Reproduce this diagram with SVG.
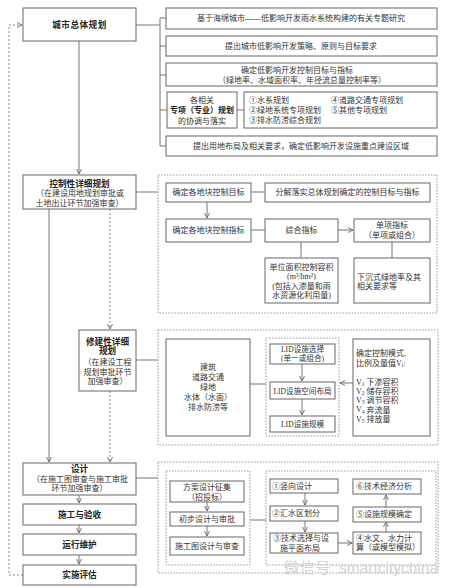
<svg xmlns="http://www.w3.org/2000/svg" width="456" height="588" viewBox="0 0 456 588">
<style>
.b{fill:#fff;stroke:#666;stroke-width:1}
.d{fill:none;stroke:#8c8c8c;stroke-width:0.9;stroke-dasharray:1.5 1.5}
.l{fill:none;stroke:#666;stroke-width:0.9}
.ld{fill:none;stroke:#777;stroke-width:0.9;stroke-dasharray:2 2}
.t{font-family:"Liberation Serif","Noto Sans CJK SC",serif;font-size:8px;fill:#333;text-anchor:middle;dominant-baseline:central}
.tl{text-anchor:start}
.s{font-size:7.6px}
.h{font-weight:bold;font-size:8.6px;fill:#222}
.w{font-family:"Liberation Sans","Noto Sans CJK SC",sans-serif;font-size:15px;fill:#d2d2d2;dominant-baseline:central}
</style>
<defs>
<marker id="a" viewBox="0 0 6 6" refX="5.5" refY="3" markerWidth="6" markerHeight="6" orient="auto" markerUnits="userSpaceOnUse">
<path d="M0.5,0.5 L5.5,3 L0.5,5.5" fill="none" stroke="#666" stroke-width="0.9"/>
</marker>
</defs>
<rect width="456" height="588" fill="#fff"/>

<g id="groups">
<rect class="d" x="158" y="175" width="279" height="138"/>
<rect class="d" x="158" y="330" width="280" height="115"/>
<rect class="d" x="266" y="338" width="73" height="98"/>
<rect class="d" x="158" y="462" width="280" height="111"/>
<rect class="d" x="166" y="471" width="84" height="94"/>
<rect class="d" x="266" y="471" width="170" height="94"/>
</g>

<g id="connectors">
<path class="ld" d="M23,575 H9 V25 H22" marker-end="url(#a)"/>
<path class="l" d="M79,41 V174" marker-end="url(#a)"/>
<path class="l" d="M136,25 H160 M160,18 V146 M160,18 H166 M160,46 H166 M160,75 H166 M160,110 H167 M160,146 H166 M237,110 H244"/>
<path class="l" d="M136,192 H158"/>
<path class="l" d="M49,209 V462" marker-end="url(#a)"/>
<path class="ld" d="M110,209 V329" marker-end="url(#a)"/>
<path class="ld" d="M110,391 V462" marker-end="url(#a)"/>
<path class="l" d="M136,360 H158"/>
<path class="l" d="M136,478 H158"/>
<path class="l" d="M79,495 V503" marker-end="url(#a)"/>
<path class="l" d="M79,525 V533" marker-end="url(#a)"/>
<path class="l" d="M79,555 V564" marker-end="url(#a)"/>
<path class="l" d="M251,192 H265"/>
<path class="l" d="M207,202 V218" marker-end="url(#a)"/>
<path class="l" d="M251,230 H265"/>
<path class="l" d="M338,230 H353" marker-end="url(#a)"/>
<path class="l" d="M301,242 V258"/>
<path class="l" d="M392,242 V258"/>
<path class="l" d="M250,384 H266"/>
<path class="l" d="M302,364 V381" marker-end="url(#a)"/>
<path class="l" d="M302,399 V415" marker-end="url(#a)"/>
<path class="l" d="M353,383 H340" marker-end="url(#a)"/>
<path class="l" d="M207,502 V511" marker-end="url(#a)"/>
<path class="l" d="M207,526 V536" marker-end="url(#a)"/>
<path class="l" d="M250,520 H266"/>
<path class="l" d="M305,493 V505" marker-end="url(#a)"/>
<path class="l" d="M305,521 V532" marker-end="url(#a)"/>
<path class="l" d="M338,543 H352" marker-end="url(#a)"/>
<path class="l" d="M386,532 V522" marker-end="url(#a)"/>
<path class="l" d="M386,507 V495" marker-end="url(#a)"/>
</g>

<g id="n-city">
<rect class="b" x="23" y="8" width="113" height="33"/>
<text class="t h" x="79.5" y="25" letter-spacing="0.5">城市总体规划</text>
</g>
<g id="n-top1">
<rect class="b" x="166" y="8" width="271" height="21"/>
<text class="t" x="301" y="18.5">基于海绵城市——低影响开发雨水系统构建的有关专题研究</text>
</g>
<g id="n-top2">
<rect class="b" x="166" y="36" width="271" height="20"/>
<text class="t" x="301" y="46">提出城市低影响开发策略、原则与目标要求</text>
</g>
<g id="n-top3">
<rect class="b" x="166" y="63" width="271" height="23"/>
<text class="t" x="297" y="70">确定低影响开发控制目标与指标</text>
<text class="t" x="302" y="80">（绿地率、水域面积率、年径流总量控制率等）</text>
</g>
<g id="n-top4">
<rect class="b" x="167" y="92" width="70" height="36"/>
<text class="t" x="202" y="100">各相关</text>
<text class="t h" x="202" y="110.5" style="font-size:8px">专项（专业）规划</text>
<text class="t" x="202" y="121">的协调与落实</text>
</g>
<g id="n-top4b">
<rect class="b" x="244" y="92" width="193" height="36"/>
<text class="t tl" x="249" y="100">①水系规划</text>
<text class="t tl" x="249" y="110">②绿地系统专项规划</text>
<text class="t tl" x="249" y="120">③排水防涝综合规划</text>
<text class="t tl" x="331" y="100">④道路交通专项规划</text>
<text class="t tl" x="331" y="110">⑤其他专项规划</text>
</g>
<g id="n-top5">
<rect class="b" x="166" y="136" width="271" height="20"/>
<text class="t" x="301" y="146">提出用地布局及相关要求，确定低影响开发设施重点建设区域</text>
</g>

<g id="n-kzx">
<rect class="b" x="23" y="175" width="113" height="34"/>
<text class="t h" x="79.5" y="184">控制性详细规划</text>
<text class="t" x="80" y="193.5">（在建设用地规划审批或</text>
<text class="t" x="79.5" y="203">土地出让环节加强审查）</text>
</g>
<g id="n-c1">
<rect class="b" x="166" y="183" width="85" height="19"/>
<text class="t" x="208.5" y="192.5">确定各地块控制目标</text>
</g>
<g id="n-c2">
<rect class="b" x="265" y="183" width="165" height="19"/>
<text class="t" x="347.5" y="192.5">分解落实总体规划确定的控制目标与指标</text>
</g>
<g id="n-c3">
<rect class="b" x="166" y="219" width="85" height="23"/>
<text class="t" x="208.5" y="230.5">确定各地块控制指标</text>
</g>
<g id="n-c4">
<rect class="b" x="265" y="219" width="73" height="23"/>
<text class="t" x="301.5" y="230.5">综合指标</text>
</g>
<g id="n-c5">
<rect class="b" x="354" y="219" width="76" height="23"/>
<text class="t" x="392" y="225.5">单项指标</text>
<text class="t" x="392" y="235.5">（单项或组合）</text>
</g>
<g id="n-c6">
<rect class="b" x="265" y="258" width="73" height="45"/>
<text class="t" x="301.5" y="267">单位面积控制容积</text>
<text class="t" x="301.5" y="276.5">(m³/hm²)</text>
<text class="t" x="301.5" y="286">(包括入渗量和雨</text>
<text class="t" x="301.5" y="295">水资源化利用量)</text>
</g>
<g id="n-c7">
<rect class="b" x="354" y="258" width="76" height="45"/>
<text class="t tl" x="357" y="277">下沉式绿地率及其</text>
<text class="t tl" x="357" y="286.5">相关要求等</text>
</g>

<g id="n-xjx">
<rect class="b" x="79" y="330" width="57" height="61"/>
<text class="t h" x="107.5" y="341.5">修建性详细</text>
<text class="t h" x="107.5" y="351">规划</text>
<text class="t" x="107.5" y="362">（在建设工程</text>
<text class="t" x="107.5" y="372">规划审批环节</text>
<text class="t" x="107.5" y="381.5">加强审查）</text>
</g>
<g id="n-x1">
<rect class="b" x="166" y="339" width="84" height="97"/>
<text class="t" x="208" y="367">建筑</text>
<text class="t" x="208" y="377">道路交通</text>
<text class="t" x="208" y="387">绿地</text>
<text class="t" x="208" y="397">水体（水面）</text>
<text class="t" x="208" y="407">排水防涝等</text>
</g>
<g id="n-x2">
<rect class="b" x="270" y="344" width="65" height="20"/>
<text class="t s" x="302.5" y="349.5">LID设施选择</text>
<text class="t s" x="302.5" y="358.5">(单一或组合)</text>
</g>
<g id="n-x3">
<rect class="b" x="270" y="382" width="65" height="17"/>
<text class="t s" x="302.5" y="391">LID设施空间布局</text>
</g>
<g id="n-x4">
<rect class="b" x="270" y="416" width="65" height="16"/>
<text class="t s" x="302.5" y="424.5">LID设施规模</text>
</g>
<g id="n-x5">
<rect class="b" x="353" y="339" width="77" height="97"/>
<text class="t tl" x="356" y="353">确定控制模式,</text>
<text class="t tl" x="356" y="363">比例及量值V<tspan font-size="5.5" dy="2">i</tspan><tspan dy="-2">:</tspan></text>
<text class="t tl" x="356" y="382">V<tspan font-size="5.5" dy="2">1</tspan><tspan dy="-2"> 下渗容积</tspan></text>
<text class="t tl" x="356" y="391">V<tspan font-size="5.5" dy="2">2</tspan><tspan dy="-2"> 储存容积</tspan></text>
<text class="t tl" x="356" y="400">V<tspan font-size="5.5" dy="2">3</tspan><tspan dy="-2"> 调节容积</tspan></text>
<text class="t tl" x="356" y="409.5">V<tspan font-size="5.5" dy="2">4</tspan><tspan dy="-2"> 弃流量</tspan></text>
<text class="t tl" x="356" y="419">V<tspan font-size="5.5" dy="2">5</tspan><tspan dy="-2"> 排放量</tspan></text>
</g>

<g id="n-sj">
<rect class="b" x="23" y="463" width="113" height="32"/>
<text class="t h" x="79.5" y="469">设计</text>
<text class="t" x="80" y="479">（在施工图审查与施工审批</text>
<text class="t" x="79.5" y="488.5">环节加强审查）</text>
</g>
<g id="n-sg">
<rect class="b" x="23" y="504" width="113" height="21"/>
<text class="t h" x="79.5" y="514.5">施工与验收</text>
</g>
<g id="n-yx">
<rect class="b" x="23" y="534" width="113" height="21"/>
<text class="t h" x="79.5" y="544.5">运行维护</text>
</g>
<g id="n-ss">
<rect class="b" x="23" y="565" width="113" height="20"/>
<text class="t h" x="79.5" y="575">实施评估</text>
</g>
<g id="n-d1">
<rect class="b" x="170" y="481" width="74" height="21"/>
<text class="t" x="207" y="487">方案设计征集</text>
<text class="t" x="207" y="497">（招投标）</text>
</g>
<g id="n-d2">
<rect class="b" x="170" y="512" width="74" height="14"/>
<text class="t" x="207" y="519">初步设计与审批</text>
</g>
<g id="n-d3">
<rect class="b" x="170" y="537" width="74" height="18"/>
<text class="t" x="207" y="546">施工图设计与审查</text>
</g>
<g id="n-e1">
<rect class="b" x="270" y="479" width="68" height="14"/>
<text class="t tl" x="272" y="486">①竖向设计</text>
</g>
<g id="n-e2">
<rect class="b" x="270" y="506" width="68" height="15"/>
<text class="t tl" x="272" y="513.5">②汇水区划分</text>
</g>
<g id="n-e3">
<rect class="b" x="270" y="533" width="68" height="20"/>
<text class="t" x="301" y="538.5">③技术选择与设</text>
<text class="t" x="300" y="548">施平面布局</text>
</g>
<g id="n-e6">
<rect class="b" x="353" y="479" width="68" height="15"/>
<text class="t tl" x="356" y="486.5">⑥技术经济分析</text>
</g>
<g id="n-e5">
<rect class="b" x="353" y="507" width="68" height="15"/>
<text class="t tl" x="356" y="514.5">⑤设施规模确定</text>
</g>
<g id="n-e4">
<rect class="b" x="353" y="532" width="68" height="22"/>
<text class="t tl" x="356" y="538">④水文、水力计</text>
<text class="t tl" x="356" y="547.5">算（或模型模拟）</text>
</g>

<text class="w" x="284" y="567" textLength="154" lengthAdjust="spacingAndGlyphs">微信号: smartcitychina</text>
</svg>
